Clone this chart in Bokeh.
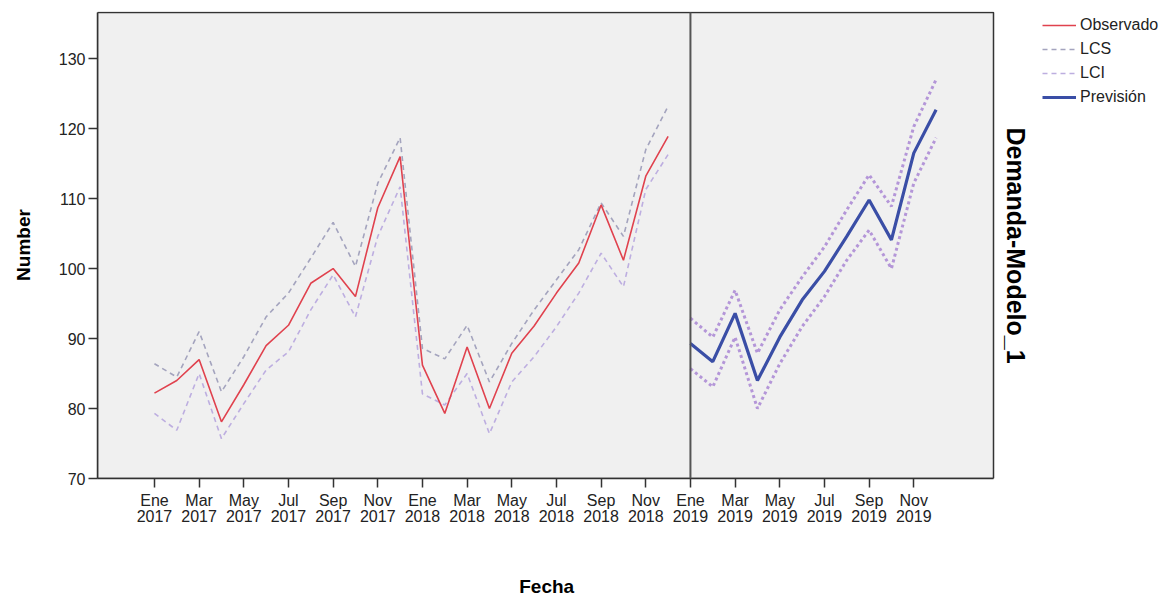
import math
from bokeh.plotting import figure
from bokeh.models import (Range1d, FixedTicker, Legend, LegendItem, Span, ColumnDataSource,
                          BoxAnnotation, Label)
from bokeh.embed import file_html
from bokeh.resources import INLINE

# ---- data ----
month_abbr = ["Ene", "Feb", "Mar", "Abr", "May", "Jun", "Jul", "Ago", "Sep", "Oct", "Nov", "Dic"]
years = [2017, 2018, 2019]

observado = [82.2, 84.0, 87.0, 78.1, 83.4, 89.0, 91.9, 97.9, 100.0, 96.0, 108.7, 116.0,
             86.2, 79.3, 88.8, 80.0, 87.9, 91.8, 96.5, 100.8, 109.1, 101.2, 113.2, 118.9]
lcs_obs = [86.4, 84.5, 91.0, 82.4, 87.4, 93.1, 96.5, 101.5, 106.6, 100.3, 112.2, 118.7,
           88.6, 87.1, 91.9, 83.8, 89.3, 94.1, 98.4, 102.7, 109.4, 104.6, 117.0, 123.2]
lci_obs = [79.3, 76.9, 85.0, 75.7, 80.7, 85.5, 88.1, 94.1, 99.1, 93.1, 104.6, 111.7,
           82.1, 80.5, 85.0, 76.4, 83.8, 87.4, 91.7, 96.5, 102.2, 97.4, 111.3, 116.3]
prevision = [89.3, 86.7, 93.6, 84.0, 90.2, 95.5, 99.6, 104.6, 109.8, 104.1, 116.5, 122.7]
lcs_prev = [92.9, 90.2, 96.9, 87.9, 94.1, 98.8, 103.1, 108.4, 113.4, 108.9, 120.3, 127.0]
lci_prev = [85.7, 83.1, 90.2, 80.0, 86.4, 91.7, 96.0, 101.2, 105.5, 100.0, 112.2, 118.7]

y_ticks = [70, 80, 90, 100, 110, 120, 130]
legend_labels = ["Observado", "LCS", "LCI", "Previsión"]

# month index labels
all_months = [f"{m}\n{y}" for y in years for m in month_abbr]
n_obs = len(observado)
n_prev = len(prevision)
x_obs = list(range(n_obs))
x_prev = list(range(n_obs, n_obs + n_prev))
tick_pos = list(range(0, n_obs + n_prev, 2))
tick_labels = {i: all_months[i] for i in tick_pos}

FONT = "Liberation Sans"
C_OBS, C_LCS, C_LCI, C_PREV, C_BAND = "#E0424E", "#A4A4BE", "#BDAEE0", "#3A4EA6", "#B496D8"

# plot box (data extent) and an extended frame so the legend fits on the right
X_LO, X_HI = -2.55, 37.57
Y_LO, Y_HI = 70, 136.6
FRAME_L, FRAME_R, W = 97, 1159, 1159
box_px = 896.0
px_per_unit = box_px / (X_HI - X_LO)
X_MAX = X_LO + (FRAME_R - FRAME_L) / px_per_unit
Y_MAX = Y_HI + 1.0 / 7.0   # one pixel of headroom so the top border is fully visible

p = figure(width=W, height=599, output_backend="svg", toolbar_location=None,
           x_range=Range1d(X_LO, X_MAX), y_range=Range1d(Y_LO, Y_MAX),
           min_border_left=FRAME_L, min_border_right=0, min_border_top=11, min_border_bottom=121,
           background_fill_color="white", border_fill_color="white",
           outline_line_color=None)
p.grid.visible = False

# grey plot area (underlay) and its dark border
p.add_layout(BoxAnnotation(left=X_LO, right=X_HI, bottom=Y_LO, top=Y_HI,
                           fill_color="#F0F0F0", fill_alpha=1.0,
                           line_color=None, level="underlay"))
p.add_layout(BoxAnnotation(left=X_LO, right=X_HI, bottom=Y_LO, top=Y_HI,
                           fill_alpha=0.0, line_color="#333333", line_alpha=1.0,
                           line_width=1.5, level="annotation"))

src_obs = ColumnDataSource(dict(x=x_obs, obs=observado, lcs=lcs_obs, lci=lci_obs))
src_prev = ColumnDataSource(dict(x=x_prev, prev=prevision, lcs=lcs_prev, lci=lci_prev))

r_lcs = p.line("x", "lcs", source=src_obs, line_color=C_LCS, line_width=1.6, line_dash="5 4")
r_lci = p.line("x", "lci", source=src_obs, line_color=C_LCI, line_width=1.6, line_dash="5 4")
r_obs = p.line("x", "obs", source=src_obs, line_color=C_OBS, line_width=1.6)

p.line("x", "lcs", source=src_prev, line_color=C_BAND, line_width=3, line_dash="3 3")
p.line("x", "lci", source=src_prev, line_color=C_BAND, line_width=3, line_dash="3 3")
r_prev = p.line("x", "prev", source=src_prev, line_color=C_PREV, line_width=3.2)

p.add_layout(BoxAnnotation(left=n_obs, right=n_obs, bottom=Y_LO, top=Y_HI,
                           fill_alpha=0.0, line_color="#555555", line_alpha=1.0,
                           line_width=2, level="annotation"))

# axes
p.xaxis.ticker = FixedTicker(ticks=tick_pos)
p.xaxis.major_label_overrides = tick_labels
p.xaxis.minor_tick_line_color = None
p.yaxis.minor_tick_line_color = None
p.yaxis.ticker = FixedTicker(ticks=y_ticks)
for ax in (p.xaxis, p.yaxis):
    ax.major_tick_in = 0
    ax.major_tick_out = 9
    ax.major_tick_line_color = "#333333"
    ax.major_tick_line_width = 1.5
    ax.axis_line_color = "#333333"
    ax.axis_line_width = 1.5
    ax.major_label_text_font = FONT
    ax.major_label_text_font_size = "16px"
    ax.major_label_text_color = "#222222"
    ax.axis_label_text_font = FONT
    ax.axis_label_text_font_style = "bold"
    ax.axis_label_text_font_size = "19px"
    ax.axis_label_text_color = "black"
p.xaxis.bounds = (X_LO, X_HI)
p.yaxis.bounds = (Y_LO, Y_HI)
p.xaxis.major_label_text_line_height = 0.95
p.xaxis.major_label_standoff = 4
p.yaxis.major_label_standoff = 3
# centre "Fecha" under the plot box rather than under the extended frame
p.xaxis.axis_label = "Fecha" + "\u00a0" * 31
p.xaxis.axis_label_standoff = 48
p.yaxis.axis_label = "Number"
p.yaxis.axis_label_standoff = 22

p.add_layout(Label(x=X_HI + 22 / px_per_unit, y=(Y_LO + Y_HI) / 2, text="Demanda-Modelo_1",
                   angle=-math.pi / 2, text_align="center", text_baseline="middle",
                   text_font=FONT, text_font_style="bold", text_font_size="25px",
                   text_color="black"))

legend = Legend(items=[LegendItem(label=l, renderers=[r]) for l, r in
                       zip(legend_labels, [r_obs, r_lcs, r_lci, r_prev])],
                location=(945, 369), padding=0, margin=0, spacing=0,
                glyph_width=34, glyph_height=24, label_height=24, label_standoff=4,
                label_text_font=FONT, label_text_font_size="16px", label_text_color="#222222",
                background_fill_alpha=0, border_line_color=None)
p.add_layout(legend)

open("out.html", "w").write(file_html(p, INLINE))
